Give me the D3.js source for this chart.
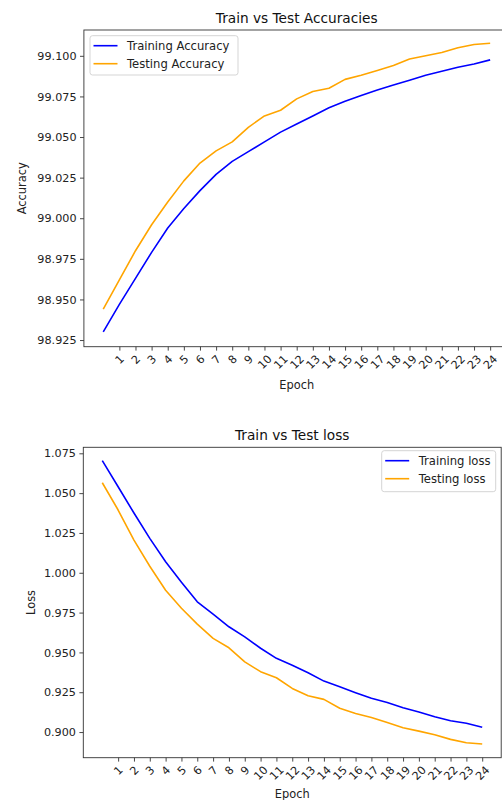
<!DOCTYPE html>
<html>
<head>
<meta charset="utf-8">
<script src="https://cdn.jsdelivr.net/npm/d3@7"></script>
<style>
  body { margin: 0; background: #fff; }
  svg { display: block; font-family: "DejaVu Sans", sans-serif; }
</style>
</head>
<body>
<svg id="chart" width="502" height="800"></svg>
<script>
// epochs 0..24, ticks shown for 1..24
const epochs = d3.range(0, 25);
const epochTicks = d3.range(1, 25);

const trainAcc = [98.930, 98.947, 98.963, 98.979, 98.994, 99.006, 99.017, 99.027, 99.035, 99.041,
    99.047, 99.053, 99.058, 99.063, 99.068, 99.072, 99.0755, 99.079, 99.082, 99.085,
    99.088, 99.0905, 99.093, 99.095, 99.0975];
const testAcc = [98.944, 98.962, 98.980, 98.996, 99.010, 99.023, 99.034, 99.0415, 99.047, 99.056,
    99.063, 99.0665, 99.0735, 99.078, 99.080, 99.0855, 99.088, 99.091, 99.094, 99.098,
    99.100, 99.102, 99.105, 99.107, 99.1077];
const accTicks = [98.925, 98.950, 98.975, 99.000, 99.025, 99.050, 99.075, 99.100];

const trainLoss = [1.0704, 1.054, 1.0375, 1.0216, 1.0069, 0.994, 0.9818, 0.9741, 0.9661, 0.9598,
    0.9526, 0.9463, 0.942, 0.9372, 0.932, 0.9284, 0.9247, 0.9212, 0.9186, 0.9153,
    0.9126, 0.9096, 0.9071, 0.9055, 0.903];
const testLoss = [1.0565, 1.0394, 1.0205, 1.0041, 0.989, 0.9777, 0.9678, 0.9588, 0.9529, 0.9441,
    0.9379, 0.9341, 0.9274, 0.9228, 0.9205, 0.9149, 0.9117, 0.9092, 0.906, 0.9027,
    0.9006, 0.8983, 0.8954, 0.8933, 0.8925];
const lossTicks = [0.900, 0.925, 0.950, 0.975, 1.000, 1.025, 1.050, 1.075];

const svg = d3.select("#chart");

function drawPanel(cfg) {
    const x = d3.scaleLinear().domain([-1.2, 25.2]).range([cfg.left, cfg.right]);
    const y = d3.scaleLinear().domain(cfg.yDomain).range([cfg.bottom, cfg.top]);
    const g = svg.append("g");

    // clip for lines
    const clipId = "clip-" + cfg.id;
    g.append("clipPath").attr("id", clipId)
        .append("rect")
        .attr("x", cfg.left).attr("y", cfg.top)
        .attr("width", cfg.right - cfg.left).attr("height", cfg.bottom - cfg.top);

    const line = d3.line().x((d, i) => x(epochs[i])).y(d => y(d));

    const lines = g.append("g").attr("clip-path", `url(#${clipId})`);
    cfg.series.forEach(s => {
        lines.append("path")
            .datum(s.values)
            .attr("fill", "none")
            .attr("stroke", s.color)
            .attr("stroke-width", 1.6)
            .attr("stroke-linejoin", "round")
            .attr("d", line);
    });

    // frame
    g.append("rect")
        .attr("x", cfg.left).attr("y", cfg.top)
        .attr("width", cfg.right - cfg.left).attr("height", cfg.bottom - cfg.top)
        .attr("fill", "none").attr("stroke", "#333").attr("stroke-width", 0.9);

    // y axis
    const yAxis = g.append("g")
        .attr("transform", `translate(${cfg.left},0)`)
        .call(d3.axisLeft(y).tickValues(cfg.yTicks).tickFormat(d3.format(".3f"))
            .tickSize(3.9).tickPadding(3.5));
    yAxis.select(".domain").remove();
    yAxis.selectAll(".tick line").attr("stroke", "#333").attr("stroke-width", 0.9);
    yAxis.selectAll(".tick text").attr("fill", "#222").attr("font-size", 11.2)
        .attr("font-family", "DejaVu Sans");

    // x axis, labels rotated 45deg around their centre
    const xAxis = g.append("g")
        .attr("transform", `translate(0,${cfg.bottom})`)
        .call(d3.axisBottom(x).tickValues(epochTicks).tickFormat(d3.format("d"))
            .tickSize(3.9).tickPadding(3.5));
    xAxis.select(".domain").remove();
    xAxis.selectAll(".tick line").attr("stroke", "#333").attr("stroke-width", 0.9);
    xAxis.selectAll(".tick text").each(function () {
        const t = d3.select(this)
            .attr("fill", "#222").attr("font-size", 11.2).attr("font-family", "DejaVu Sans")
            .attr("text-anchor", "middle").attr("dy", null)
            .attr("dominant-baseline", "central");
        const w = this.getComputedTextLength();
        const h = 8;
        const cy = 3.9 + 3.9 + (w + h) / (2 * Math.SQRT2);
        t.attr("y", cy).attr("x", 0).attr("transform", `rotate(-45,0,${cy})`);
    });

    // labels
    svg.append("text")
        .attr("x", (cfg.left + cfg.right) / 2).attr("y", cfg.xLabelY)
        .attr("text-anchor", "middle").attr("font-size", 11.4).attr("fill", "#222")
        .text("Epoch");
    svg.append("text")
        .attr("transform", `translate(${cfg.yLabelX},${(cfg.top + cfg.bottom) / 2}) rotate(-90)`)
        .attr("text-anchor", "middle").attr("dominant-baseline", "central")
        .attr("font-size", 11.4).attr("fill", "#222")
        .text(cfg.yLabel);
    svg.append("text")
        .attr("x", (cfg.left + cfg.right) / 2).attr("y", cfg.titleY)
        .attr("text-anchor", "middle").attr("font-size", 13.7).attr("fill", "#111")
        .text(cfg.title);

    // legend
    const lg = svg.append("g").attr("transform", `translate(${cfg.legend.x},${cfg.legend.y})`);
    lg.append("rect")
        .attr("width", cfg.legend.w).attr("height", cfg.legend.h)
        .attr("rx", 2.5)
        .attr("fill", "#fff").attr("fill-opacity", 0.8)
        .attr("stroke", "#d0d0d0").attr("stroke-width", 0.9);
    cfg.series.forEach((s, i) => {
        const ly = 10 + i * 18;
        lg.append("line")
            .attr("x1", 3.5).attr("x2", 27.5).attr("y1", ly).attr("y2", ly)
            .attr("stroke", s.color).attr("stroke-width", 1.6);
        lg.append("text")
            .attr("x", 37).attr("y", ly).attr("dominant-baseline", "central")
            .attr("font-size", 11.6).attr("fill", "#222")
            .text(s.name);
    });
}

drawPanel({
    id: "acc",
    left: 83.9, right: 509.5, top: 30, bottom: 346.7,
    yDomain: [98.9209, 99.1159],
    yTicks: accTicks,
    title: "Train vs Test Accuracies", titleY: 22.5,
    yLabel: "Accuracy", yLabelX: 22,
    xLabelY: 389,
    series: [
        { name: "Training Accuracy", color: "blue", values: trainAcc },
        { name: "Testing Accuracy", color: "orange", values: testAcc }
    ],
    legend: { x: 90, y: 35.7, w: 148, h: 39.3 }
});

drawPanel({
    id: "loss",
    left: 83.3, right: 501.2, top: 447.3, bottom: 757.7,
    yDomain: [0.8839, 1.07877],
    yTicks: lossTicks,
    title: "Train vs Test loss", titleY: 440,
    yLabel: "Loss", yLabelX: 31,
    xLabelY: 798,
    series: [
        { name: "Training loss", color: "blue", values: trainLoss },
        { name: "Testing loss", color: "orange", values: testLoss }
    ],
    legend: { x: 381.7, y: 450.7, w: 114, h: 41 }
});
</script>
</body>
</html>
